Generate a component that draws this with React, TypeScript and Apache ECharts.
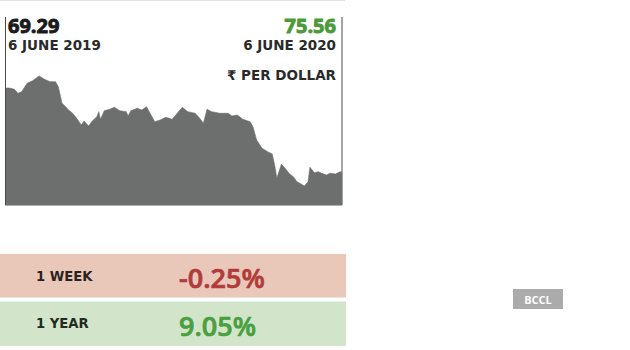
import React, { useEffect, useRef } from "react";
import * as echarts from "echarts";

const days = [0, 4, 9, 13, 17, 23, 29, 36, 42, 48, 54, 57, 61, 65, 68, 72, 77, 82, 85, 90, 94, 99, 101, 103, 107, 113, 118, 124, 131, 133, 136, 143, 148, 153, 157, 162, 168, 174, 181, 187, 192, 198, 206, 211, 215, 219, 224, 233, 242, 246, 252, 258, 266, 269, 273, 279, 285, 290, 293, 295, 300, 304, 309, 313, 317, 320, 325, 329, 331, 336, 340, 344, 349, 353, 359, 364, 366];
const rates = [69.29, 69.29, 69.38, 69.68, 69.56, 68.94, 68.74, 68.39, 68.64, 68.82, 68.82, 69.19, 70.43, 70.68, 70.93, 71.13, 71.54, 72.04, 71.74, 72.12, 71.74, 71.42, 71.05, 71.62, 70.98, 70.87, 70.72, 70.98, 71.05, 71.37, 70.98, 70.8, 70.93, 70.68, 71.17, 71.8, 71.67, 71.47, 71.62, 71.13, 70.72, 71.05, 71.17, 71.54, 71.92, 70.87, 71.05, 71.17, 71.17, 71.37, 71.3, 71.62, 71.8, 72.17, 73.16, 73.78, 74.03, 74.2, 75.15, 76.01, 74.95, 75.27, 75.69, 75.89, 76.27, 76.38, 76.59, 76.27, 75.19, 75.6, 75.52, 75.64, 75.77, 75.64, 75.69, 75.52, 75.56];

const startValue = "69.29";
const startDate = "6 JUNE 2019";
const endValue = "75.56";
const endDate = "6 JUNE 2020";
const unitLabel = "₹ PER DOLLAR";
const periodLabels = ["1 WEEK", "1 YEAR"];
const periodChanges = ["-0.25%", "9.05%"];
const sourceLabel = "BCCL";

const WIDE = "'DejaVu Sans', 'Noto Sans', sans-serif";
const NUM = "'Open Sans', 'Noto Sans', sans-serif";

function txt(text: string, x: number, y: number, size: number, weight: number, fill: string, align: string = "left", family: string = WIDE, thicken: number = 0) {
  return {
    type: "text",
    silent: true,
    style: {
      text,
      x,
      y,
      font: `${weight} ${size}px ${family}`,
      fill,
      stroke: thicken > 0 ? fill : undefined,
      lineWidth: thicken,
      textAlign: align,
      align,
      textVerticalAlign: "middle",
      verticalAlign: "middle",
    },
  };
}

export default function App() {
  const ref = useRef<HTMLDivElement>(null);
  useEffect(() => {
    if (!ref.current) return;
    const chart = echarts.init(ref.current, undefined, { renderer: "svg" });
    const data = days.map((d, i) => [d, rates[i]]);
    chart.setOption({
      animation: false,
      backgroundColor: "#ffffff",
      grid: { left: 6, right: 288, top: 17, bottom: 145 },
      xAxis: {
        type: "value",
        min: 0,
        max: 366,
        show: false,
      },
      yAxis: {
        type: "value",
        inverse: true,
        min: 64,
        max: 78,
        show: false,
      },
      series: [
        {
          type: "line",
          data,
          symbol: "none",
          lineStyle: { color: "#6d6e6e", width: 0.6 },
          areaStyle: { color: "#6d6e6e", opacity: 1, origin: "end" },
          silent: true,
        },
      ],
      graphic: [
        { type: "line", silent: true, shape: { x1: 0, y1: 0.5, x2: 345, y2: 0.5 }, style: { stroke: "#e2e2e2", lineWidth: 1 } },
        { type: "line", silent: true, shape: { x1: 5.5, y1: 17, x2: 5.5, y2: 205 }, style: { stroke: "#4a4a4a", lineWidth: 1 } },
        { type: "line", silent: true, shape: { x1: 342, y1: 17, x2: 342, y2: 205 }, style: { stroke: "#4a4a4a", lineWidth: 1 } },
        { type: "line", silent: true, shape: { x1: 5, y1: 205.5, x2: 342, y2: 205.5 }, style: { stroke: "#b0b0b0", lineWidth: 1 } },
        txt(startValue, 8, 25, 20, 700, "#1b1b1b", "left", NUM, 0.9),
        txt(startDate, 8, 45, 13.5, 700, "#2a2a2a"),
        txt(endValue, 336, 25, 20, 700, "#4c9a3c", "right", NUM, 0.9),
        txt(endDate, 336, 45, 13.5, 700, "#2a2a2a", "right"),
        txt(unitLabel, 336, 75, 13.5, 700, "#2a2a2a", "right"),
        { type: "rect", silent: true, shape: { x: 0, y: 254, width: 346, height: 43.5 }, style: { fill: "#e9c8b9" } },
        { type: "rect", silent: true, shape: { x: 0, y: 301.5, width: 346, height: 44.5 }, style: { fill: "#d2e5ca" } },
        txt(periodLabels[0], 36, 276.5, 13.2, 700, "#2a2222"),
        txt(periodChanges[0], 179, 277, 27, 600, "#b23b3a", "left", NUM, 0.7),
        txt(periodLabels[1], 36, 323.5, 13.2, 700, "#222a22"),
        txt(periodChanges[1], 179, 325, 27, 600, "#49a03e", "left", NUM, 0.7),
        { type: "rect", silent: true, shape: { x: 513, y: 289, width: 50, height: 20 }, style: { fill: "#ababab" } },
        txt(sourceLabel, 538, 299, 11, 700, "#ffffff", "center", NUM),
      ],
    });
    return () => chart.dispose();
  }, []);
  return (
    <div
      ref={ref}
      style={{ position: "absolute", left: 0, top: 0, width: 630, height: 350 }}
    />
  );
}
